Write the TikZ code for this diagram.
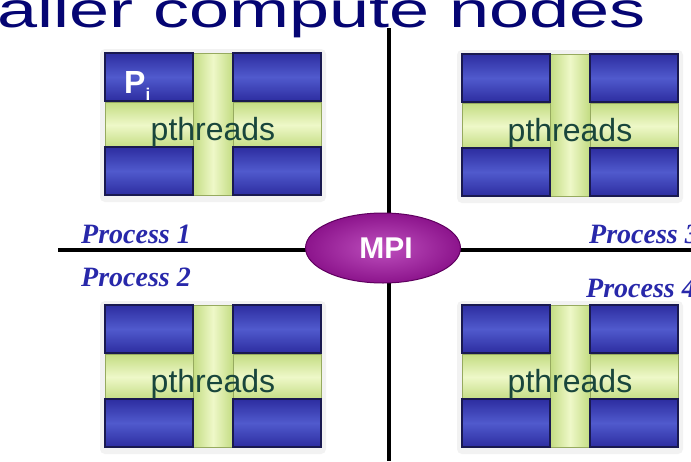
\documentclass[tikz,border=0pt]{standalone}
\usepackage{fontspec}
\setmainfont{Liberation Sans}
\newfontfamily\procfont{Liberation Serif}
\usetikzlibrary{shapes.geometric}
\definecolor{titlenavy}{RGB}{5,5,115}
\definecolor{procblue}{RGB}{40,40,170}
\definecolor{boxedge}{RGB}{25,25,80}
\definecolor{boxdark}{RGB}{45,45,160}
\definecolor{boxlight}{RGB}{80,90,205}
\definecolor{greenedge}{RGB}{150,170,95}
\definecolor{greendark}{RGB}{195,220,130}
\definecolor{greenlight}{RGB}{238,248,200}
\definecolor{ptextcol}{RGB}{25,70,60}
\definecolor{mpiin}{RGB}{190,80,190}
\definecolor{mpiout}{RGB}{140,20,140}
\definecolor{mpiedge}{RGB}{95,0,95}
\tikzset{
  bluebox/.style={draw=boxedge, line width=1.2pt, minimum width=88pt, minimum height=48pt,
    inner sep=0pt, top color=boxdark, bottom color=boxdark, middle color=boxlight},
  greenh/.style={draw=greenedge, line width=0.8pt, top color=greendark, bottom color=greendark, middle color=greenlight},
  greenv/.style={draw=greenedge, line width=0.8pt, left color=greendark, right color=greendark, middle color=greenlight},
  glow/.style={fill=black!5, rounded corners=5pt},
  ptext/.style={text=ptextcol, font=\fontsize{32}{36}\selectfont, inner sep=0pt},
  proctext/.style={text=procblue, font=\procfont\bfseries\itshape\fontsize{28}{32}\selectfont, inner sep=0pt, anchor=base west},
  axisline/.style={draw=black, line width=4pt},
  mpinode/.style={ellipse, minimum width=155pt, minimum height=70pt, inner sep=0pt,
    inner color=mpiin, outer color=mpiout, draw=mpiedge, line width=1pt,
    text=white, font=\bfseries\fontsize{30}{34}\selectfont},
  pthreadblock/.pic={
    \path[glow] (-5,-4) rectangle (221,149);
    \path[greenh] (0,49) rectangle (216,95);
    \path[greenv] (88,0) rectangle (128,142);
    \node[bluebox] (-a) at (44,24) {};
    \node[bluebox] (-b) at (172,24) {};
    \node[bluebox] (-c) at (44,118) {};
    \node[bluebox] (-d) at (172,118) {};
    \node[ptext] (-t) at (108,79) {pthreads};
  }
}
\begin{document}
\begin{tikzpicture}[x=1pt, y=-1pt]
\useasboundingbox (0,0) rectangle (691,461);
\clip (0,0) rectangle (691,461);
\fill[white] (0,0) rectangle (691,461);
% title
\node[anchor=base west, inner sep=0pt, text=titlenavy] (title) at (-3,27)
  {\scalebox{1.44}[1]{\fontsize{50}{60}\selectfont aller compute nodes}};
% axis lines
\coordinate (vtop) at (389,28);
\coordinate (vbot) at (389,461);
\coordinate (hleft) at (58,250);
\coordinate (hright) at (691,250);
\draw[axisline] (vtop) -- (vbot);
\draw[axisline] (hleft) -- (hright);
% blocks
\pic (tl) at (105,53) {pthreadblock};
\pic (tr) at (462,54) {pthreadblock};
\pic (bl) at (105,305) {pthreadblock};
\pic (br) at (462,305) {pthreadblock};
\node[anchor=base west, inner sep=0pt, text=white, font=\bfseries\fontsize{32}{36}\selectfont] (pi) at (124,93)
  {P\raisebox{-7pt}{\fontsize{17}{17}\selectfont i}};
% MPI
\node[mpinode] (mpi) at (383,248) {\raisebox{-4pt}{\hspace*{6pt}MPI}};
% process labels
\node[proctext] (p1) at (81,243) {Process 1};
\node[proctext] (p2) at (81,286) {Process 2};
\node[proctext] (p3) at (589,243) {Process 3};
\node[proctext] (p4) at (586,297) {Process 4};
\end{tikzpicture}
\end{document}
